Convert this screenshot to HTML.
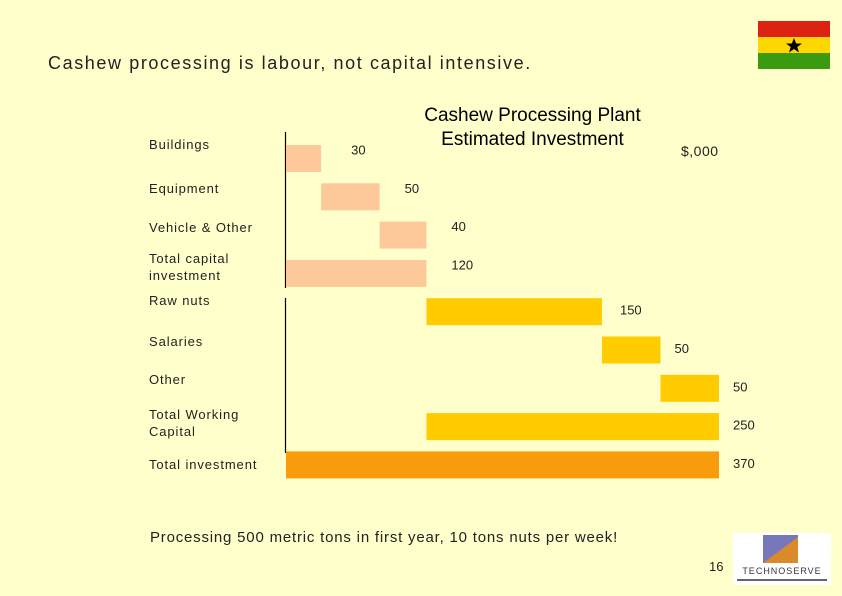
<!DOCTYPE html>
<html><head><meta charset="utf-8"><style>
body{margin:0;width:842px;height:596px;background:#ffffcc;position:relative;overflow:hidden;font-family:"Liberation Sans",sans-serif;}
.t{position:absolute;white-space:nowrap;color:#222;}
</style></head><body>
<div class="t" style="left:48px;top:53px;font-size:18px;letter-spacing:1.6px;">Cashew processing is labour, not capital intensive.</div>
<div class="t" style="left:400px;top:104px;width:265px;text-align:center;font-size:19px;line-height:24px;color:#000;">Cashew Processing Plant<br>Estimated Investment</div>
<div class="t" style="left:681px;top:143px;font-size:14px;letter-spacing:0.5px;">$,000</div>
<svg style="position:absolute;left:758px;top:21px" width="72" height="48">
<rect width="72" height="16" fill="#dd2211"/><rect y="16" width="72" height="16" fill="#ffd700"/><rect y="32" width="72" height="16" fill="#3a9a10"/>
<polygon points="36,17 38.2,22.5 44,22.5 39.3,26 41,31.5 36,28 31,31.5 32.7,26 28,22.5 33.8,22.5" fill="#000"/></svg>
<svg id="chart" style="position:absolute;left:0;top:0" width="842" height="596"></svg>
<div class="t" style="left:150px;top:529px;font-size:15px;letter-spacing:0.8px;">Processing 500 metric tons in first year, 10 tons nuts per week!</div>
<div class="t" style="left:709px;top:559px;font-size:13px;">16</div>
<svg style="position:absolute;left:733px;top:533px" width="98" height="52">
<rect width="98" height="52" fill="#fff"/>
<polygon points="30,2 65,2 65,30 30,30" fill="#7777bb"/>
<polygon points="30,30 65,4 65,30" fill="#d98a2a"/>
<text x="49" y="41" font-size="9" text-anchor="middle" font-family="Liberation Sans" fill="#334" letter-spacing="1">TECHNOSERVE</text>
<rect x="4" y="46" width="90" height="2" fill="#666"/></svg>
<script>
const categories=["Buildings","Equipment","Vehicle & Other","Total capital investment","Raw nuts","Salaries","Other","Total Working Capital","Total investment"];
const starts=[0,30,80,0,120,270,320,120,0];
const values=[30,50,40,120,150,50,50,250,370];
const kinds=["cap","cap","cap","cap","wc","wc","wc","wc","total"];
const svg=document.getElementById('chart');
const NS="http://www.w3.org/2000/svg";
const x0=286,scale=433/370,top0=145,step=38.3,bh=27;
const X=v=>x0+v*scale;
const Y=i=>top0+i*step;
const colors={cap:"#fdc99a",wc:"#ffcc00",total:"#f99c0c"};
const labelTop=[136,180,219,250,292,333,371,406,456];
const names=["Buildings","Equipment","Vehicle &amp; Other","Total capital<br>investment","Raw nuts","Salaries","Other","Total Working<br>Capital","Total investment"];
function line(x,y1,y2){const l=document.createElementNS(NS,'line');l.setAttribute('x1',x);l.setAttribute('x2',x);l.setAttribute('y1',y1);l.setAttribute('y2',y2);l.setAttribute('stroke','#000');l.setAttribute('stroke-width','1.2');return l;}
const a1=line(285.5,132,288);


svg.appendChild(a1);
const a2=line(285.5,298,453);


svg.appendChild(a2);
categories.forEach((c,i)=>{
 const r=document.createElementNS(NS,'rect');
 r.setAttribute('x',X(starts[i]));r.setAttribute('y',Y(i));
 r.setAttribute('width',values[i]*scale);r.setAttribute('height',bh);
 r.setAttribute('fill',colors[kinds[i]]);
 
 
 svg.appendChild(r);
 const t=document.createElementNS(NS,'text');
 t.setAttribute('x',X(starts[i]+values[i])+(i==0?30:(i<4?25:(i==4?18:14))));
 t.setAttribute('y',Y(i)+bh/2+(i<4?-4:3));
 t.setAttribute('font-size','13');t.setAttribute('font-family','Liberation Sans');t.setAttribute('fill','#222');
 t.textContent=values[i];
 
 
 svg.appendChild(t);
 const d=document.createElement('div');
 d.className='t';d.style.left='149px';d.style.top=labelTop[i]+'px';d.style.fontSize='13px';d.style.lineHeight='17px';d.style.letterSpacing='0.9px';
 d.innerHTML=names[i];
 
 
 document.body.appendChild(d);
});
</script>
</body></html>
